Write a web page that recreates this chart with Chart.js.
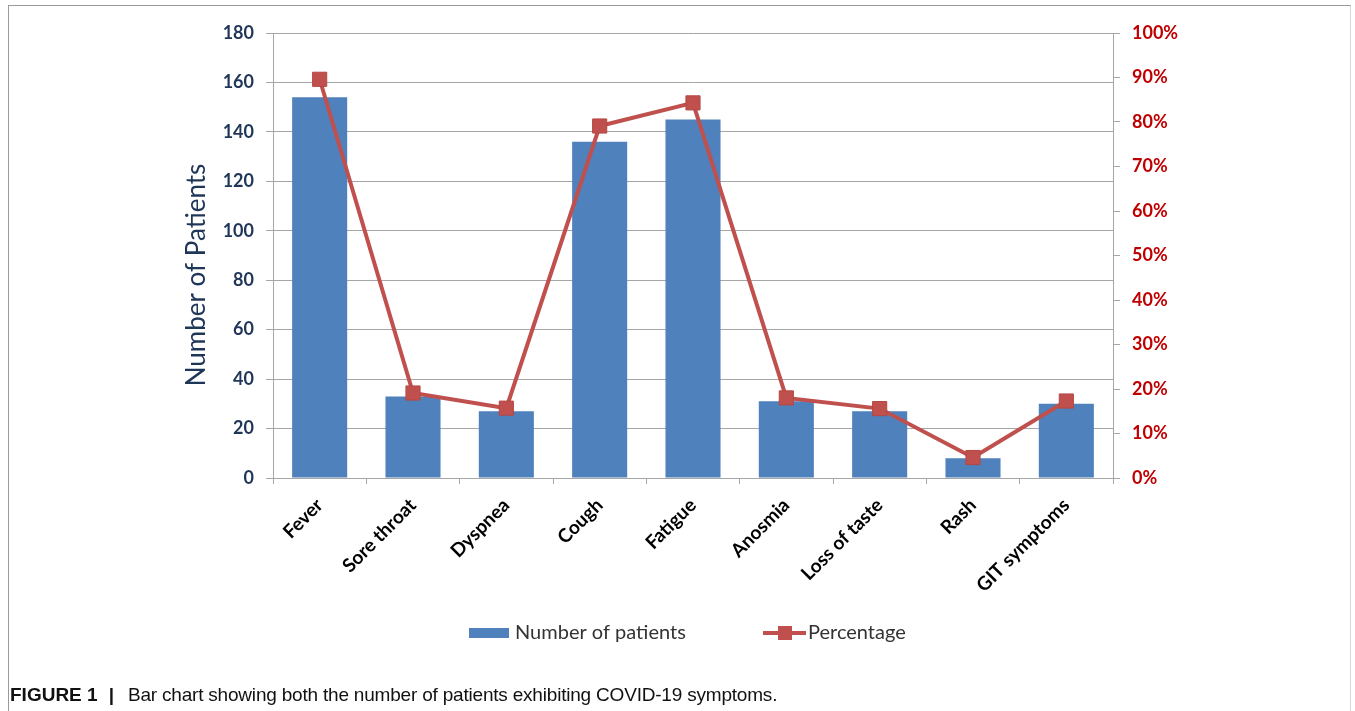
<!DOCTYPE html>
<html>
<head>
<meta charset="utf-8">
<title>COVID-19 symptoms</title>
<script src="https://cdn.jsdelivr.net/npm/chart.js@4.4.1/dist/chart.umd.min.js"></script>
<style>
  html, body { margin: 0; padding: 0; background: #fff; }
  body { width: 1355px; height: 711px; position: relative; overflow: hidden; }
  #frame {
    position: absolute; left: 8px; top: 5px; width: 1343px; height: 720px;
    border: 1px solid #9a9a9a; border-right-color: #d8d8d8; box-sizing: border-box;
  }
  #wrap { position: absolute; left: 0; top: 0; width: 1355px; height: 711px; }
  #caption {
    position: absolute; left: 10px; top: 684px; white-space: nowrap;
    font-family: "Liberation Sans", Arial, sans-serif; font-size: 19px; color: #111;
  }
  #caption b { font-weight: bold; }
  #caption .sep { font-weight: bold; margin: 0 14px 0 11px; }
  #caption .text { letter-spacing: -0.2px; }
</style>
</head>
<body>
<div id="frame"></div>
<div id="wrap"><canvas id="chart" width="1355" height="711"></canvas></div>
<div id="caption"><b>FIGURE 1</b><span class="sep">|</span><span class="text">Bar chart showing both the number of patients exhibiting COVID-19 symptoms.</span></div>
<script>
// Symptoms and the two series
const symptoms = ['Fever', 'Sore throat', 'Dyspnea', 'Cough', 'Fatigue', 'Anosmia', 'Loss of taste', 'Rash', 'GIT symptoms'];
const patientCounts = [154, 33, 27, 136, 145, 31, 27, 8, 30];
const percentages = [89.6, 19.1, 15.7, 79.1, 84.3, 18.0, 15.6, 4.6, 17.3];

const countTicks = { min: 0, max: 180, step: 20 };
const percentTicks = { min: 0, max: 100, step: 10 };
const countAxisTitle = 'Number of Patients';

const BAR_BLUE = '#4F81BD';
const LINE_RED = '#C0504D';
const GRID = '#a6a6a6';
const NAVY = '#1f3658';

// Axis title on the left, set a little below the plot's middle
const axisTitlePlugin = {
  id: 'axisTitle',
  afterDraw(chart) {
    const ctx = chart.ctx;
    ctx.save();
    ctx.translate(197, 275);
    ctx.rotate(-Math.PI / 2);
    ctx.font = '26px Lato, "Open Sans", sans-serif';
    ctx.fillStyle = NAVY;
    ctx.textAlign = 'center';
    ctx.textBaseline = 'middle';
    ctx.fillText(countAxisTitle, 0, 0);
    ctx.restore();
  }
};

// Legend drawn below the labels: a swatch for the bars, a line with a square for the line
const legendPlugin = {
  id: 'comboLegend',
  afterDraw(chart) {
    const ctx = chart.ctx;
    const y = 633;
    const bar = chart.data.datasets[1];
    const line = chart.data.datasets[0];
    ctx.save();
    ctx.font = '20px Lato, "Open Sans", sans-serif';
    ctx.textBaseline = 'middle';

    ctx.fillStyle = bar.backgroundColor;
    ctx.fillRect(469, y - 5, 40, 10);
    ctx.fillStyle = '#333';
    ctx.fillText(bar.label, 515, y);

    ctx.strokeStyle = line.borderColor;
    ctx.lineWidth = 4;
    ctx.beginPath();
    ctx.moveTo(763, y);
    ctx.lineTo(806, y);
    ctx.stroke();
    ctx.fillStyle = line.pointBackgroundColor;
    ctx.fillRect(778, y - 7, 14, 14);
    ctx.fillStyle = '#333';
    ctx.fillText(line.label, 808, y);
    ctx.restore();
  }
};

new Chart(document.getElementById('chart'), {
  data: {
    labels: symptoms,
    datasets: [
      {
        type: 'line',
        label: 'Percentage',
        data: percentages,
        yAxisID: 'y1',
        borderColor: LINE_RED,
        borderWidth: 4,
        pointStyle: 'rect',
        pointRadius: 10,
        pointHoverRadius: 10,
        pointBackgroundColor: LINE_RED,
        pointBorderColor: '#b54744',
        pointBorderWidth: 1,
        tension: 0,
        order: 0
      },
      {
        type: 'bar',
        label: 'Number of patients',
        data: patientCounts,
        yAxisID: 'y',
        backgroundColor: BAR_BLUE,
        categoryPercentage: 1,
        barPercentage: 0.59,
        order: 1
      }
    ]
  },
  options: {
    responsive: false,
    animation: false,
    events: [],
    layout: { padding: { left: 0, right: 0, top: 33, bottom: 0 } },
    plugins: { legend: { display: false }, tooltip: { enabled: false } },
    scales: {
      x: {
        offset: true,
        grid: { offset: true, drawOnChartArea: false, color: GRID, tickLength: 6 },
        border: { color: GRID },
        ticks: {
          minRotation: 45, maxRotation: 45, autoSkip: false, padding: 10,
          color: '#000',
          font: { family: 'Lato, "Open Sans", sans-serif', size: 19, weight: 'bold' }
        },
        afterFit(s) { s.height = 233; }
      },
      y: {
        position: 'left',
        min: countTicks.min, max: countTicks.max,
        grid: { color: GRID, tickLength: 7 },
        border: { color: GRID },
        ticks: {
          stepSize: countTicks.step, padding: 12, color: NAVY,
          font: { family: 'Lato, "Open Sans", sans-serif', size: 18, weight: 'bold' }
        },
        afterFit(s) { s.width = 273; }
      },
      y1: {
        position: 'right',
        min: percentTicks.min, max: percentTicks.max,
        grid: { drawOnChartArea: false, color: GRID, tickLength: 7 },
        border: { color: GRID },
        ticks: {
          stepSize: percentTicks.step, padding: 12, color: '#c00000',
          callback: v => v + '%',
          font: { family: 'Lato, "Open Sans", sans-serif', size: 18, weight: 'bold' }
        },
        afterFit(s) { s.width = 1355 - 1113; }
      }
    }
  },
  plugins: [axisTitlePlugin, legendPlugin]
});
</script>
</body>
</html>
